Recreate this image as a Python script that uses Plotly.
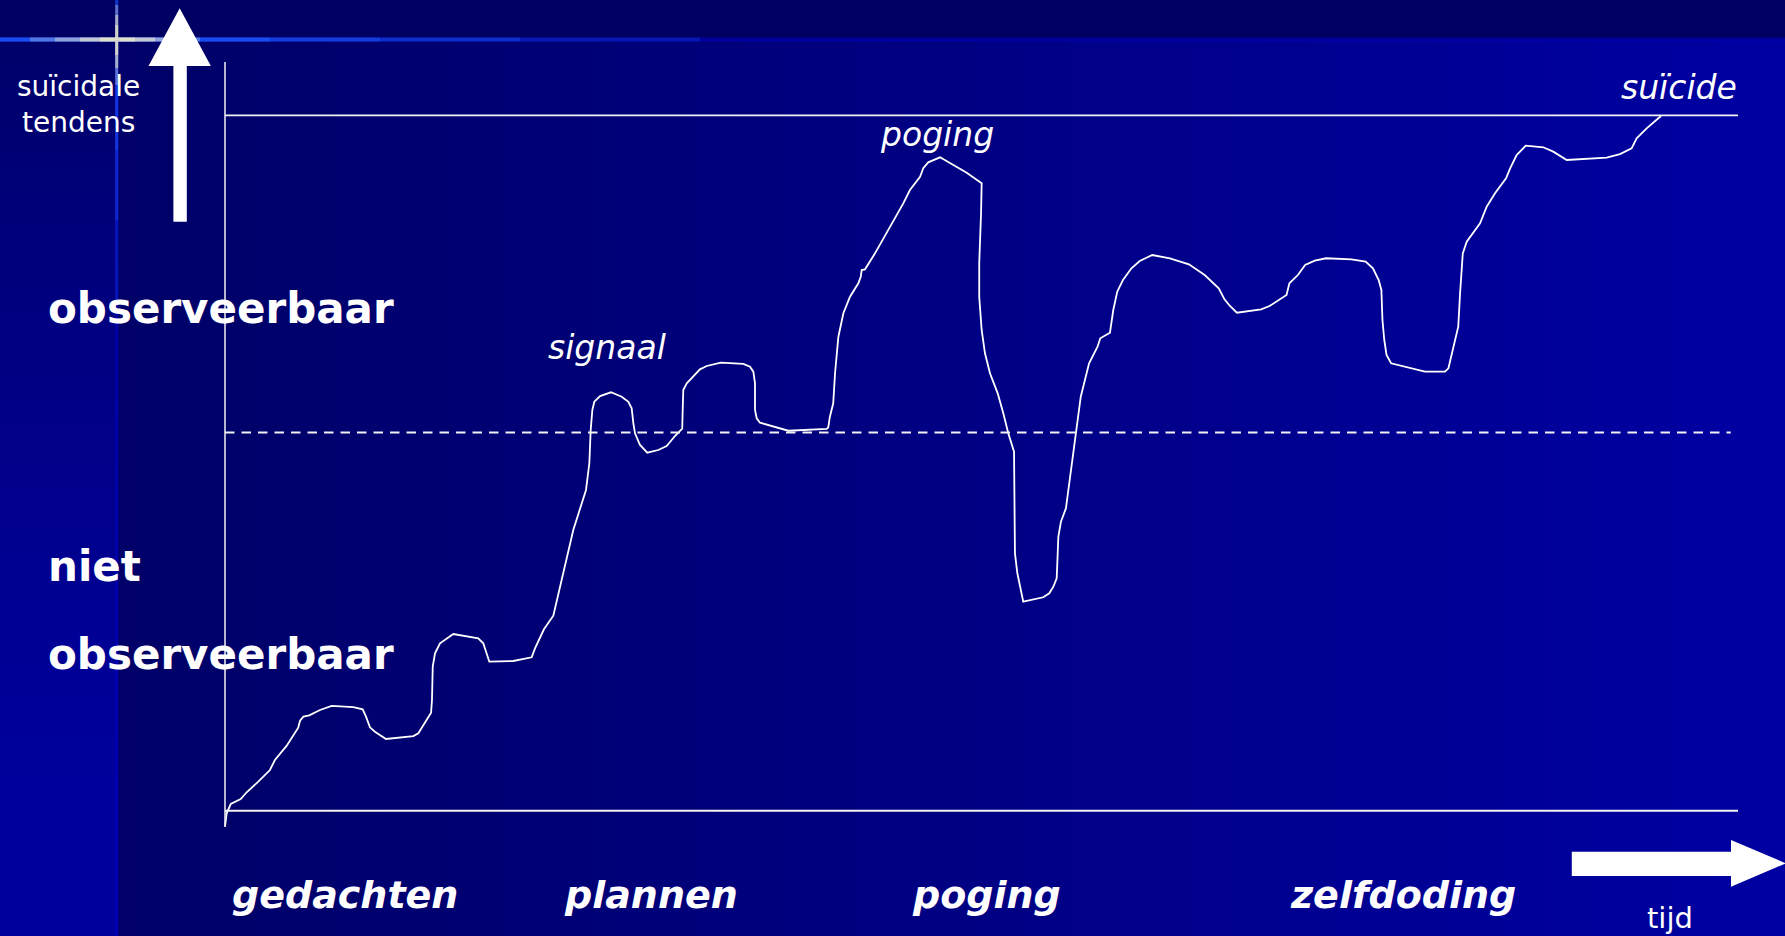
import plotly.graph_objects as go

W, H = 1785, 936

# ---------------- data (time units 0-100, tendency units 0-100) ----------------
time = [0.00, 0.11, 0.38, 1.04, 1.43, 2.20, 2.97, 3.30, 4.08, 4.84, 4.96, 5.18, 5.57, 6.28, 7.05,
        8.48, 9.10, 9.32, 9.58, 9.91, 10.64, 12.45, 12.78, 13.15, 13.62, 13.68, 13.73, 13.88, 14.21,
        15.09, 16.74, 17.07, 17.30, 17.47, 19.05, 20.27, 20.49, 21.08, 21.70, 22.14, 22.58, 23.02,
        23.86, 24.01, 24.08, 24.17, 24.28, 24.41, 24.79, 25.51, 26.22, 26.66, 26.88, 26.99, 27.10,
        27.43, 27.91, 28.64, 29.19, 29.74, 30.22, 30.25, 30.29, 30.52, 31.39, 31.84, 32.78, 34.26,
        34.70, 34.92, 35.03, 35.03, 35.14, 35.36, 36.24, 37.23, 39.77, 39.87, 39.98, 40.20, 40.32,
        40.54, 40.87, 41.31, 41.86, 42.02, 42.08, 42.30, 42.96, 43.84, 44.61, 44.83, 45.27, 45.94,
        46.15, 46.48, 47.26, 48.14, 49.02, 50.01, 49.97, 49.85, 49.85, 50.01, 50.23, 50.56, 51.07,
        51.44, 51.77, 52.15, 52.17, 52.21, 52.37, 52.76, 54.08, 54.48, 54.75, 54.97, 55.08, 55.25,
        55.58, 55.85, 56.29, 56.56, 57.11, 57.67, 57.85, 58.49, 58.71, 58.97, 59.35, 59.91, 60.46,
        61.29, 62.45, 63.71, 64.75, 65.68, 66.06, 66.42, 66.88, 68.48, 69.04, 70.16, 70.35, 70.91,
        71.39, 72.03, 72.77, 74.45, 75.39, 75.87, 76.25, 76.43, 76.50, 76.62, 76.77, 77.07, 79.31,
        80.63, 80.86, 81.18, 81.51, 81.63, 81.81, 82.07, 82.95, 83.39, 83.94, 84.67, 84.94, 85.37,
        85.97, 87.13, 87.79, 88.68, 91.32, 92.20, 92.97, 93.30, 93.96, 94.91]
tendency = [-2.30, -0.37, 0.96, 1.68, 2.65, 4.17, 5.85, 7.29, 9.35, 11.94, 12.94, 13.52, 13.72,
            14.48, 15.06, 14.91, 14.58, 13.52, 11.99, 11.36, 10.31, 10.74, 11.13, 12.47, 14.09,
            15.92, 20.71, 22.63, 24.07, 25.41, 24.79, 24.07, 22.63, 21.43, 21.53, 22.06, 23.35,
            26.09, 28.04, 32.21, 36.05, 40.37, 46.12, 48.99, 49.96, 54.74, 57.62, 58.81, 59.63,
            60.17, 59.53, 58.81, 57.86, 55.71, 54.27, 52.59, 51.48, 51.87, 52.45, 53.88, 54.93,
            57.62, 60.50, 61.46, 63.47, 63.95, 64.42, 64.24, 63.85, 63.13, 61.46, 57.62, 56.43,
            55.80, 55.22, 54.64, 54.89, 55.13, 56.66, 58.58, 62.90, 68.16, 71.53, 73.91, 75.84,
            76.79, 77.75, 77.85, 80.15, 83.50, 86.38, 87.34, 89.25, 91.17, 92.38, 93.24, 93.96,
            92.85, 91.74, 90.22, 85.91, 78.72, 73.91, 69.13, 65.77, 62.90, 60.02, 57.15, 54.27,
            51.62, 47.55, 37.01, 34.14, 30.05, 30.69, 31.26, 32.21, 33.42, 39.40, 41.56, 43.49,
            48.03, 54.74, 59.53, 64.34, 66.72, 67.93, 68.74, 72.00, 74.63, 76.31, 78.00, 79.05,
            79.91, 79.44, 78.57, 77.03, 75.12, 73.54, 72.58, 71.61, 72.10, 72.58, 74.16, 75.84,
            77.03, 78.47, 79.09, 79.44, 79.29, 78.95, 78.00, 76.31, 74.88, 70.56, 67.69, 65.53,
            64.34, 63.13, 63.13, 63.62, 66.72, 69.60, 74.40, 80.15, 81.82, 84.47, 86.85, 88.78,
            90.94, 92.38, 94.29, 95.63, 95.40, 94.77, 93.57, 93.90, 94.43, 95.25, 96.69, 98.13,
            99.90]

phase_labels = ["gedachten", "plannen", "poging", "zelfdoding"]
phase_pos = [7.90, 28.13, 50.30, 77.89]

threshold_level = 54.4     # border observable / not observable
suicide_level = 100.0      # top line
time_end = 100.0
threshold_end = 99.52

signal_label = ("signaal", 25.25, 66.6)
attempt_label = ("poging", 47.06, 97.2)
suicide_label = ("suïcide", 100.05, 104.0)

# ---------------- figure ----------------
X_RANGE = [-14.871, 103.106]
Y_RANGE = [-18.018, 116.58]


def px(x, y):
    return x / W, 1 - y / H


def path_px(points):
    s = ""
    for i, (x, y) in enumerate(points):
        a, b = px(x, y)
        s += ("M" if i == 0 else "L") + f"{a:.5f},{b:.5f} "
    return s + "Z"


def mix(c1, c2, t):
    return "#%02x%02x%02x" % tuple(int(round(c1[k] + (c2[k] - c1[k]) * t)) for k in range(3))


shapes = []
# top band
shapes.append(dict(type="rect", xref="paper", yref="paper", x0=0, x1=1, y0=px(0, 40)[1], y1=1,
                   fillcolor="#000062", line_width=0, layer="below"))
# main area horizontal gradient
N = 70
x_start, x_end = 118, W
for i in range(N):
    xa = x_start + (x_end - x_start) * i / N
    xb = x_start + (x_end - x_start) * (i + 1) / N + 0.8
    t = i / (N - 1)
    col = mix((0, 0, 0x68), (0, 0, 0xA2), t ** 1.1)
    shapes.append(dict(type="rect", xref="paper", yref="paper", x0=xa / W, x1=min(xb / W, 1),
                       y0=0, y1=px(0, 40)[1], fillcolor=col, line_width=0, layer="below"))
# left strip vertical gradient
M = 40
for i in range(M):
    ya = 40 + (H - 40) * i / M
    yb = 40 + (H - 40) * (i + 1) / M + 0.8
    t = i / (M - 1)
    col = mix((0, 0, 0x6A), (0, 0, 0x9C), min(1, t * 1.2) ** 0.8)
    shapes.append(dict(type="rect", xref="paper", yref="paper", x0=0, x1=118 / W,
                       y0=px(0, min(yb, H))[1], y1=px(0, ya)[1], fillcolor=col, line_width=0,
                       layer="below"))


# glow lines (soft, layered)
def seg(x0, y0, x1, y1, color, width, opacity=1.0):
    a0, b0 = px(x0, y0)
    a1, b1 = px(x1, y1)
    shapes.append(dict(type="line", xref="paper", yref="paper", x0=a0, y0=b0, x1=a1, y1=b1,
                       line=dict(color=color, width=width), opacity=opacity, layer="below"))


GY = 39.5
GX = 116.7
seg(0, GY, W, GY, "#0000b0", 4, 0.7)
for (xa, xb, op) in [(0, 700, 0.25), (0, 520, 0.3), (0, 380, 0.35), (0, 270, 0.5)]:
    seg(xa, GY, xb, GY, "#1e5cff", 4, op)
for (xa, xb, op) in [(30, 200, 0.25), (55, 175, 0.35), (80, 155, 0.45), (100, 135, 0.5)]:
    seg(xa, GY, xb, GY, "#fff6c8", 4, op)
seg(GX, 40, GX, H, "#0000c8", 3, 0.55)
for (ya, yb, op) in [(0, 300, 0.25), (0, 220, 0.3), (0, 150, 0.35)]:
    seg(GX, ya, GX, yb, "#2050ff", 3, op)
for (ya, yb, op) in [(5, 85, 0.3), (15, 68, 0.45), (25, 55, 0.5)]:
    seg(GX, ya, GX, yb, "#fff6c8", 3, op)

# arrows
shapes.append(dict(type="path", xref="paper", yref="paper", fillcolor="white", line_width=0,
                   path=path_px([(173.4, 221.7), (173.4, 66), (148.5, 66), (179.7, 8.3),
                                 (210.9, 66), (186.8, 66), (186.8, 221.7)])))
shapes.append(dict(type="path", xref="paper", yref="paper", fillcolor="white", line_width=0,
                   path=path_px([(1571.8, 851.7), (1731, 851.7), (1731, 840), (1786, 863.3),
                                 (1731, 886.7), (1731, 876), (1571.8, 876)])))

# chart frame lines in data units
LINE_C = "#f2f2f2"
shapes.append(dict(type="line", xref="x", yref="y", x0=0, x1=0, y0=-2.3, y1=107.66,
                   line=dict(color=LINE_C, width=1.5)))
shapes.append(dict(type="line", xref="x", yref="y", x0=0, x1=time_end, y0=0, y1=0,
                   line=dict(color=LINE_C, width=2)))
shapes.append(dict(type="line", xref="x", yref="y", x0=0, x1=time_end, y0=suicide_level,
                   y1=suicide_level, line=dict(color=LINE_C, width=1.8)))
shapes.append(dict(type="line", xref="x", yref="y", x0=0, x1=threshold_end, y0=threshold_level,
                   y1=threshold_level, line=dict(color=LINE_C, width=2, dash="9.5px,7px")))

fig = go.Figure()
fig.add_trace(go.Scatter(x=time, y=tendency, mode="lines", line=dict(color="white", width=1.8),
                         hoverinfo="skip", cliponaxis=False, showlegend=False))

FONT = "DejaVu Sans, Verdana, sans-serif"
ann = []
for lab, xp in zip(phase_labels, phase_pos):
    ann.append(dict(x=xp, y=-12.1, xref="x", yref="y", text=f"<b><i>{lab}</i></b>",
                    showarrow=False, font=dict(family=FONT, size=38, color="white"),
                    xanchor="center", yanchor="middle"))
for lab, xp, yp in [signal_label, attempt_label]:
    ann.append(dict(x=xp, y=yp, xref="x", yref="y", text=f"<i>{lab}</i>", showarrow=False,
                    font=dict(family=FONT, size=33, color="white"), xanchor="center",
                    yanchor="middle"))
ann.append(dict(x=suicide_label[1], y=suicide_label[2], xref="x", yref="y",
                text=f"<i>{suicide_label[0]}</i>", showarrow=False,
                font=dict(family=FONT, size=33, color="white"), xanchor="right",
                yanchor="middle"))


def pann(text, x, y, size, xanchor="left", bold=False, align="left"):
    a, b = px(x, y)
    ann.append(dict(x=a, y=b, xref="paper", yref="paper", text=(f"<b>{text}</b>" if bold else text),
                    showarrow=False, font=dict(family=FONT, size=size, color="white"),
                    xanchor=xanchor, yanchor="middle", align=align))


pann("suïcidale<br>tendens", 78, 104, 28, xanchor="center", align="center")
pann("observeerbaar", 46, 309, 42, bold=True)
pann("niet", 46, 566, 42, bold=True)
pann("observeerbaar", 46, 654, 42, bold=True)
pann("tijd", 1670, 918, 29, xanchor="center")

fig.update_layout(
    width=W, height=H, margin=dict(l=0, r=0, t=0, b=0),
    paper_bgcolor="#000066", plot_bgcolor="rgba(0,0,0,0)",
    xaxis=dict(range=X_RANGE, visible=False, fixedrange=True),
    yaxis=dict(range=Y_RANGE, visible=False, fixedrange=True),
    shapes=shapes, annotations=ann, showlegend=False,
)

fig.write_html("out.html", config={"displayModeBar": False},
               post_script="document.body.style.margin='0';document.body.style.overflow='hidden';")
